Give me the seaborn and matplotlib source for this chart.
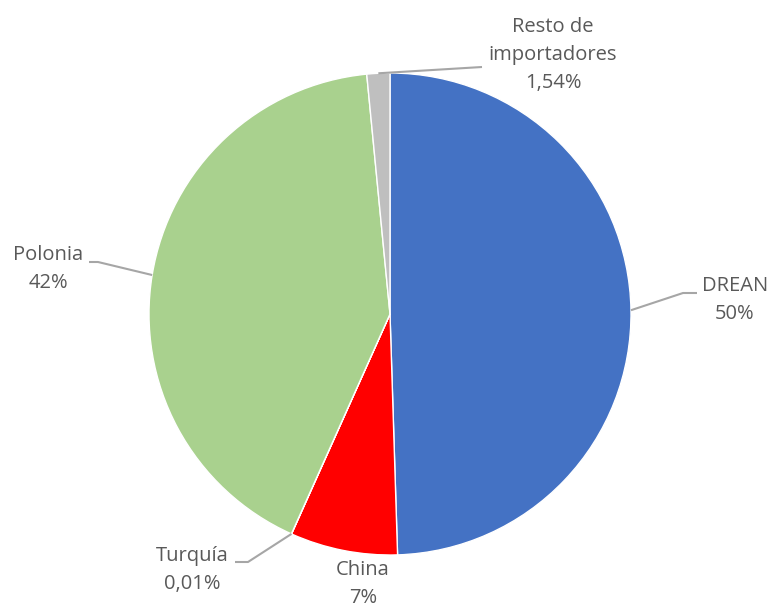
import numpy as np
import matplotlib
matplotlib.use("Agg")
import matplotlib.pyplot as plt
import seaborn as sns

# Datos de la torta (sentido horario desde arriba)
labels = ["DREAN", "China", "Turquía", "Polonia", "Resto de\nimportadores"]
values = [49.5, 7.2, 0.01, 41.75, 1.54]
pct_labels = ["50%", "7%", "0,01%", "42%", "1,54%"]
colors = ["#4472C4", "#FF0000", "#7F7F7F", "#A9D18E", "#BFBFBF"]

sns.set_theme(style="white")
plt.rcParams["font.family"] = ["Open Sans", "DejaVu Sans"]

W, H, R = 771, 612, 241
CX, CY = 390, 314


def px(x, y):
    """Convierte pixeles de la imagen a coordenadas de datos (radio = 1)."""
    return (x - CX) / R, (CY - y) / R


fig = plt.figure(figsize=(W / 100, H / 100), dpi=100)
ax = fig.add_axes([0, 0, 1, 1])
wedges, _ = ax.pie(values, colors=colors, startangle=90, counterclock=False,
                   radius=1, wedgeprops=dict(edgecolor="white", linewidth=1))
ax.set_xlim(-CX / R, (W - CX) / R)
ax.set_ylim(-(H - CY) / R, CY / R)
ax.set_aspect("equal")
ax.axis("off")

# posicion del texto, codo y final de la linea guia (en pixeles)
label_pos = [(735, 300), (363, 584), (192, 570), (48, 269), (553, 55)]
elbows = [(683, 293), None, (248, 562), (98, 262), (482, 67)]
ends = [(697, 293), None, (235, 562), (89, 262), (482, 67)]

text_color = "#595959"
line_color = "#A6A6A6"
for w, lab, pct, pos, elb, end in zip(wedges, labels, pct_labels, label_pos, elbows, ends):
    tx, ty = px(*pos)
    ax.text(tx, ty, lab + "\n" + pct, ha="center", va="center", fontsize=14.5,
            color=text_color, linespacing=1.55)
    if elb is None:
        continue
    ang = np.deg2rad((w.theta1 + w.theta2) / 2)
    x0, y0 = np.cos(ang), np.sin(ang)
    ex, ey = px(*elb)
    fx, fy = px(*end)
    ax.plot([x0, ex, fx], [y0, ey, fy], color=line_color, lw=1.5,
            solid_capstyle="butt")

fig.savefig("out.png", dpi=100)
